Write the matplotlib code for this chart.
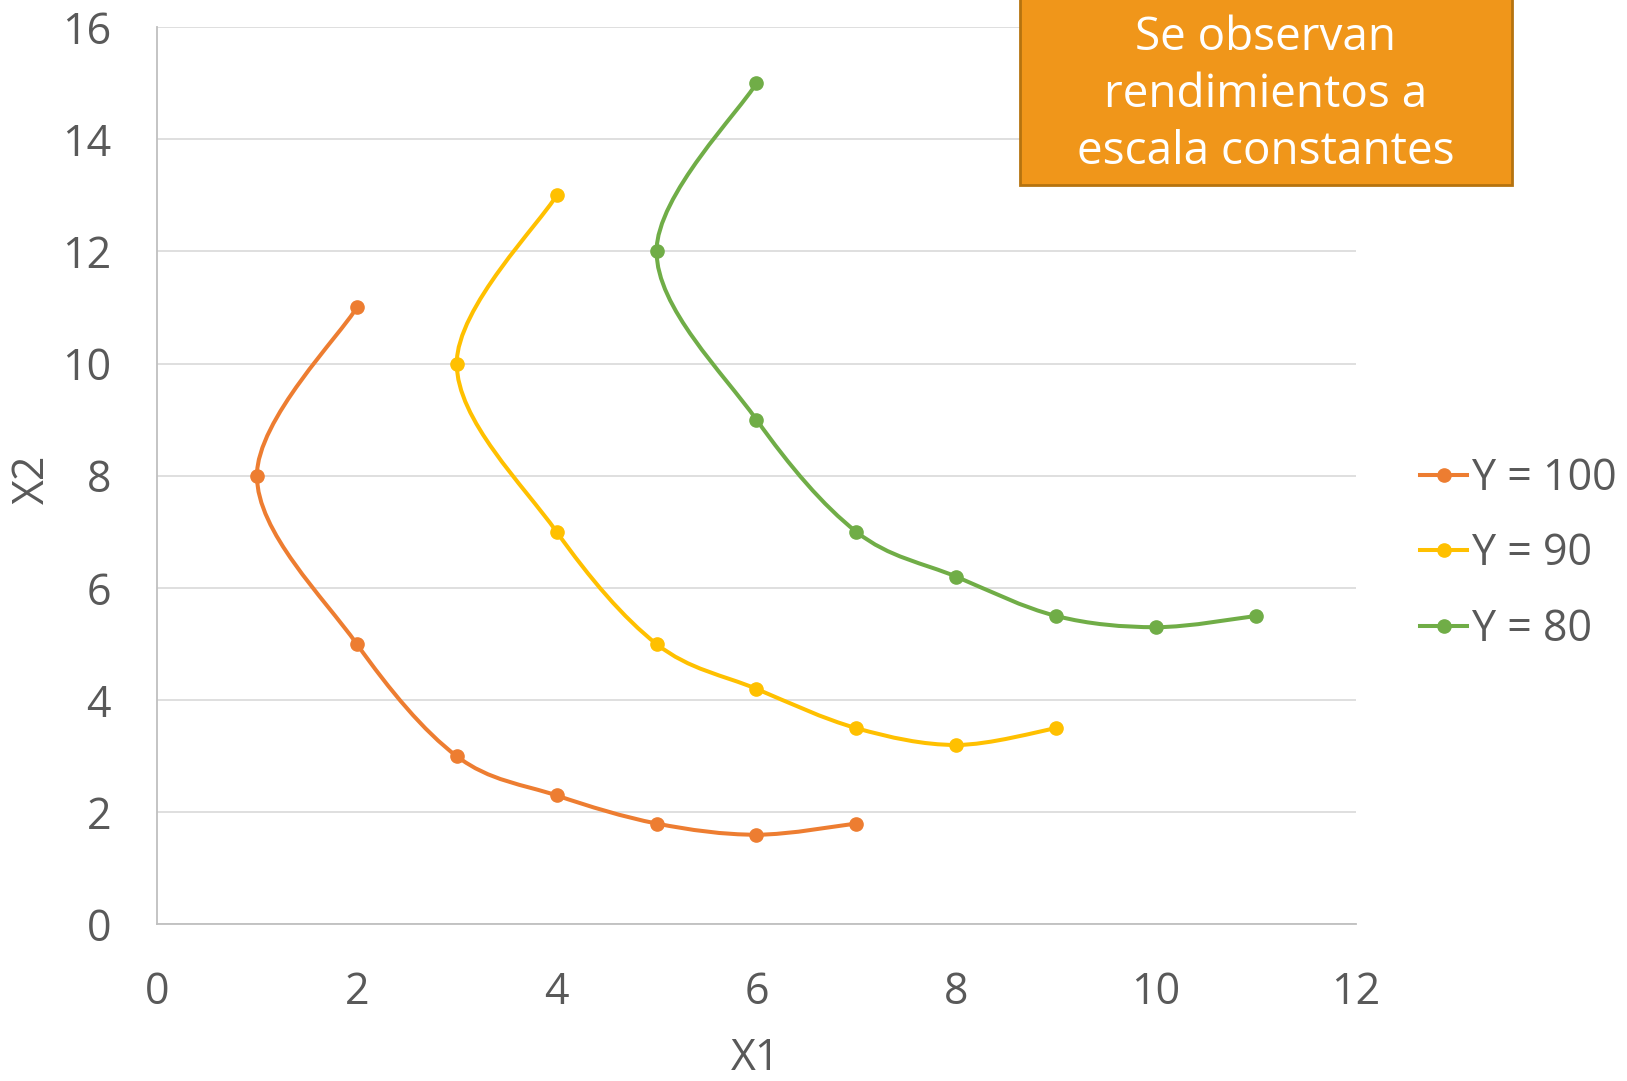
import matplotlib
matplotlib.use("Agg")
import matplotlib.pyplot as plt
from matplotlib.path import Path
from matplotlib.patches import PathPatch, Rectangle
from matplotlib.lines import Line2D

# isoquant data
x_100 = [2, 1, 2, 3, 4, 5, 6, 7]
y_100 = [11, 8, 5, 3, 2.3, 1.8, 1.6, 1.8]
x_90 = [4, 3, 4, 5, 6, 7, 8, 9]
y_90 = [13, 10, 7, 5, 4.2, 3.5, 3.2, 3.5]
x_80 = [6, 5, 6, 7, 8, 9, 10, 11]
y_80 = [15, 12, 9, 7, 6.2, 5.5, 5.3, 5.5]
labels = ["Y = 100", "Y = 90", "Y = 80"]
colors = ["#ED7D31", "#FFC000", "#70AD47"]

GRAY = "#595959"
plt.rcParams['font.family'] = ['Open Sans', 'DejaVu Sans']


def smooth_path(xs, ys):
    # Excel-style smoothed line: cubic bezier through each point
    pts = list(zip(xs, ys))
    n = len(pts)
    verts = [pts[0]]
    codes = [Path.MOVETO]
    for i in range(n - 1):
        p0 = pts[max(i - 1, 0)]
        p1 = pts[i]
        p2 = pts[i + 1]
        p3 = pts[min(i + 2, n - 1)]
        c1 = (p1[0] + (p2[0] - p0[0]) / 6, p1[1] + (p2[1] - p0[1]) / 6)
        c2 = (p2[0] - (p3[0] - p1[0]) / 6, p2[1] - (p3[1] - p1[1]) / 6)
        verts += [c1, c2, p2]
        codes += [Path.CURVE4] * 3
    return Path(verts, codes)


fig = plt.figure(figsize=(16.27, 10.81), dpi=100)
ax = fig.add_axes([0.0965, 0.1448, 0.7369, 0.8302])

series = [(x_100, y_100), (x_90, y_90), (x_80, y_80)]
handles = []
for (xs, ys), lab, col in zip(series, labels, colors):
    ax.add_patch(PathPatch(smooth_path(xs, ys), facecolor="none", edgecolor=col,
                           lw=2.9, zorder=3, capstyle="round"))
    ax.plot(xs, ys, linestyle="none", marker="o", ms=9.5, color=col, zorder=4)
    handles.append(Line2D([], [], color=col, lw=2.9, marker="o", ms=9.5))

ax.set_xlim(0, 12)
ax.set_ylim(0, 16)
ax.set_xticks(range(0, 13, 2))
ax.set_yticks(range(0, 17, 2))
ax.grid(axis="y", color="#D9D9D9", lw=1.2)
ax.set_axisbelow(True)
for s in ["top", "right"]:
    ax.spines[s].set_visible(False)
for s in ["left", "bottom"]:
    ax.spines[s].set_color("#BFBFBF")
    ax.spines[s].set_linewidth(1.3)
ax.tick_params(length=0, labelsize=31, labelcolor=GRAY)
ax.tick_params(axis="y", pad=33)
ax.tick_params(axis="x", pad=33)

fig.text(0.0203, 1 - 479 / 1081, "X2", rotation=90, fontsize=31, color=GRAY,
         ha="center", va="center")
fig.text(756 / 1627, 1 - 1059 / 1081, "X1", fontsize=31, color=GRAY,
         ha="center", va="center")

fig.legend(handles, labels, loc="center left",
           bbox_to_anchor=(1420 / 1627, 1 - 554 / 1081), frameon=False,
           fontsize=31, labelcolor=GRAY, handlelength=1.1, handletextpad=0.1,
           labelspacing=0.72, borderpad=0, borderaxespad=0)

# callout box
bx0, bx1, by0, by1 = 1020 / 1627, 1512 / 1627, 1 - 185 / 1081, 1.0
fig.patches.append(Rectangle((bx0, by0), bx1 - bx0, by1 - by0 + 0.01,
                             transform=fig.transFigure, facecolor="#F0961A",
                             edgecolor="#B5730F", lw=2, zorder=5))
fig.text((bx0 + bx1) / 2, 1 - 95 / 1081,
         "Se observan\nrendimientos a\nescala constantes",
         ha="center", va="center", color="white", fontsize=33,
         linespacing=1.32, zorder=6)

fig.savefig("out.png", dpi=100)
